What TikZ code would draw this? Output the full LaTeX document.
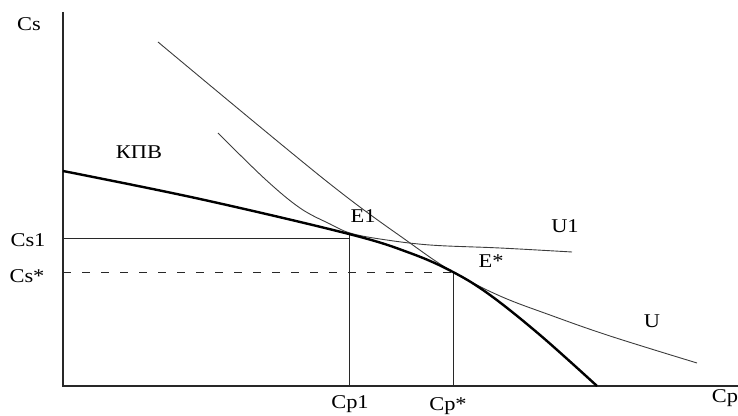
\documentclass[tikz,border=0pt]{standalone}
\usepackage{fontspec}
\setmainfont{Liberation Serif}
\usepackage{tikz}
\usetikzlibrary{positioning,calc}
\definecolor{AxisGray}{RGB}{40,40,40}
\definecolor{CurveGray}{RGB}{60,60,60}

\begin{document}
\begin{tikzpicture}[
    x=1pt, y=1pt,
    lbl/.style={font=\fontsize{19.5}{21}\selectfont, xscale=1.15, inner sep=0pt, anchor=base, text=black},
    axis/.style={AxisGray, line width=1.1pt},
    guide/.style={AxisGray, line width=0.9pt},
    dguide/.style={guide, dash pattern=on 8pt off 11pt},
    kpv/.style={black, line width=2.4pt, smooth, tension=0.6},
    indiff/.style={CurveGray, line width=0.9pt, smooth, tension=0.6},
]
\useasboundingbox (0,0) rectangle (738,415);

% axes
\coordinate (O) at (63,29);
\coordinate (ytop) at (63,403);
\coordinate (xend) at (738,29);
\draw[axis] (ytop) -- (O) -- (xend);

% equilibrium points
\coordinate (E1) at (349,181);
\coordinate (Estar) at (453,143);
\coordinate (Cs1) at (O |- 0,177);
\coordinate (Csstar) at (O |- Estar);
\coordinate (Cp1) at (E1 |- O);
\coordinate (Cpstar) at (Estar |- O);
\coordinate (E1h) at (E1 |- Cs1);

\draw[guide] (Cs1) -- (E1h);
\draw[guide] (E1) -- (Cp1);
\draw[dguide] (Csstar) -- (Estar);
\draw[guide] (Estar) -- (Cpstar);

% indifference curves
\draw[indiff] plot coordinates {(158,373) (325,235) (410,172) (453,143) (500,119) (550,100) (610,79) (697,52)};
\draw[indiff] plot coordinates {(218,282) (265,236) (300,207) (330,191) (350,182) (380,176) (430,170) (500,167) (572,163)};

% production possibility curve
\draw[kpv] plot coordinates {(63,244) (200,216) (349,181) (410,162) (453,143) (490,120) (540,80) (597,29)};

% labels
\node[lbl] (lCs) at (29,384) {Cs};
\node[lbl] (lKPV) at (139,256) {КПВ};
\node[lbl] (lCs1) at (28,168) {Cs1};
\node[lbl] (lCsstar) at (27,132) {Cs*};
\node[lbl] (lCp1) at (350,7) {Cp1};
\node[lbl] (lCpstar) at (448,5) {Cp*};
\node[lbl] (lCp) at (725,13) {Cp};
\node[lbl] (lE1) at (363,192) {E1};
\node[lbl] (lEstar) at (491,147) {E*};
\node[lbl] (lU1) at (565,182) {U1};
\node[lbl] (lU) at (652,88) {U};
\end{tikzpicture}
\end{document}
